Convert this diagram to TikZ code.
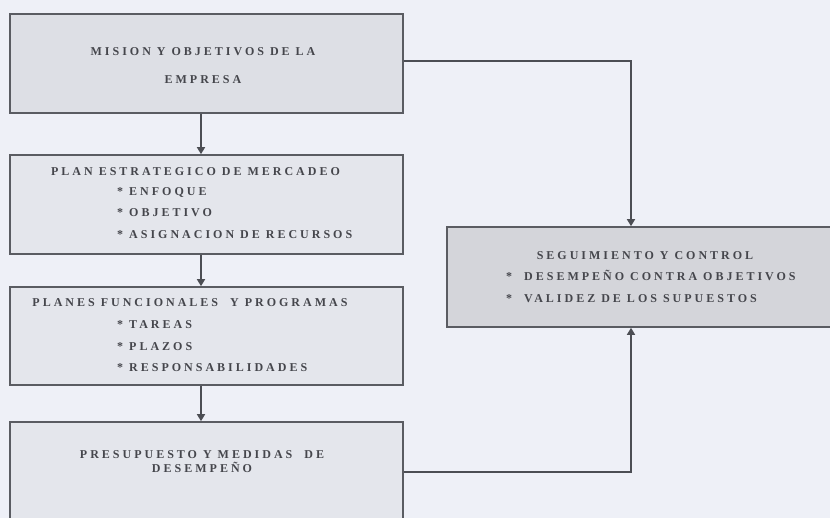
\documentclass[tikz,border=0pt]{standalone}
\usepackage{fontspec}
\setmainfont[LetterSpace=25]{Liberation Serif}
\usepackage{xcolor}
\usetikzlibrary{positioning,calc,arrows.meta}
\definecolor{bgc}{HTML}{EEF0F7}
\definecolor{boxc}{HTML}{E4E6EC}
\definecolor{topc}{HTML}{DDDFE5}
\definecolor{ctrlc}{HTML}{D4D5DA}
\definecolor{edgec}{HTML}{5A5C62}
\definecolor{linec}{HTML}{4C4E54}
\definecolor{txtc}{HTML}{45464C}
\tikzset{
  stepbox/.style={draw=edgec, line width=1.6pt, fill=boxc, minimum width=393pt, inner sep=0pt},
  txt/.style={inner sep=0pt, text height=8pt, text depth=0pt, text=txtc, font=\fontsize{12}{14}\selectfont\bfseries},
  arr/.style={draw=linec, line width=1.4pt, -{Triangle[length=7pt,width=8pt]}}
}
\begin{document}
\begin{tikzpicture}[x=1pt, y=-1pt]
  \fill[bgc] (0,0) rectangle (830,518);
  \useasboundingbox (0,0) rectangle (830,518);
  \clip (0,0) rectangle (830,518);
  % column of boxes
  \node[stepbox, fill=topc, minimum height=99pt] (mision) at (206.5,63.5){};
  \node[txt] (misionA) at (203,52){MISION Y OBJETIVOS DE LA};
  \node[txt] (misionB) at (203,80){EMPRESA};
  \node[stepbox, minimum height=99pt] (plan) at (206.5,204.5){};
  \node[txt] (planT) at (195.5,172){PLAN ESTRATEGICO DE MERCADEO};
  \node[txt, anchor=west] (planA) at (117,192){* ENFOQUE};
  \node[txt, anchor=west] (planB) at (117,213){* OBJETIVO};
  \node[txt, anchor=west] (planC) at (117,235){* ASIGNACION DE RECURSOS};
  \node[stepbox, minimum height=98pt] (func) at (206.5,336){};
  \node[txt] (funcT) at (190,303){PLANES FUNCIONALES \ Y PROGRAMAS};
  \node[txt, anchor=west] (funcA) at (117,325){* TAREAS};
  \node[txt, anchor=west] (funcB) at (117,347){* PLAZOS};
  \node[txt, anchor=west] (funcC) at (117,368){* RESPONSABILIDADES};
  \node[stepbox, minimum height=118pt] (presup) at (206.5,481){};
  \node[txt] (presupA) at (202,454){PRESUPUESTO Y MEDIDAS \ DE};
  \node[txt] (presupB) at (202,468){DESEMPEÑO};
  % control box
  \node[stepbox, fill=ctrlc, minimum height=100pt] (seg) at (643.5,277){};
  \node[txt] (segT) at (645,256){SEGUIMIENTO Y CONTROL};
  \node[txt, anchor=west] (segA) at (506,277){* \ DESEMPEÑO CONTRA OBJETIVOS};
  \node[txt, anchor=west] (segB) at (506,299){* \ VALIDEZ DE LOS SUPUESTOS};
  % connectors
  \draw[arr] ([xshift=-5.5pt]mision.south) -- ([xshift=-5.5pt]plan.north);
  \draw[arr] ([xshift=-5.5pt]plan.south) -- ([xshift=-5.5pt]func.north);
  \draw[arr] ([xshift=-5.5pt]func.south) -- ([xshift=-5.5pt]presup.north);
  \draw[arr] ([yshift=2.5pt]mision.east) -| ([xshift=-12.5pt]seg.north);
  \draw[arr] ([yshift=9pt]presup.east) -| ([xshift=-12.5pt]seg.south);
\end{tikzpicture}
\end{document}
